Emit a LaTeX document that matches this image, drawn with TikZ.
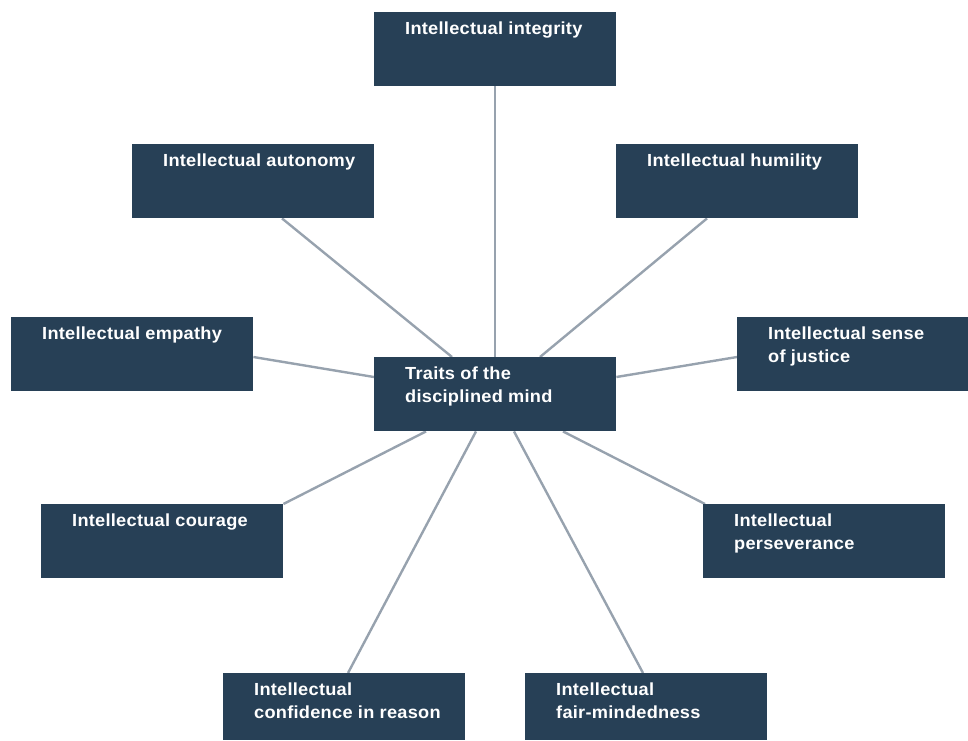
\documentclass[tikz,border=0pt]{standalone}
\usepackage{fontspec}
\setmainfont{Liberation Sans}[FakeStretch=1.04,LetterSpace=1.5]
\usetikzlibrary{calc,backgrounds}
\definecolor{boxfill}{HTML}{274056}
\definecolor{linkgray}{HTML}{97A2AE}
\newcommand{\twolines}[2]{\vtop{\baselineskip=22.5pt\lineskiplimit=-10pt\hbox{#1}\hbox{#2}}}
\tikzset{
  tbox/.style={draw=none, fill=boxfill, anchor=north west, inner sep=0pt,
    minimum width=242pt, minimum height=74pt},
  tlabel/.style={anchor=base west, inner sep=0pt, text=white,
    font=\fontsize{17.5}{22.5}\selectfont\bfseries},
  link/.style={draw=linkgray, line width=2.4pt}
}
\begin{document}
\begin{tikzpicture}[x=1pt,y=-1pt]
\useasboundingbox (0,0) rectangle (968,740);
% boxes
\node[tbox] (integ) at (374,12) {};
\node[tbox] (aut) at (132,144) {};
\node[tbox] (hum) at (616,144) {};
\node[tbox] (emp) at (11,317) {};
\node[tbox] (ctr) at (374,357) {};
\node[tbox, minimum width=231pt] (jus) at (737,317) {};
\node[tbox] (cou) at (41,504) {};
\node[tbox] (per) at (703,504) {};
\node[tbox, minimum height=67pt] (con) at (223,673) {};
\node[tbox, minimum height=67pt] (fai) at (525,673) {};
% texts
\node[tlabel] (integT) at ($(integ.north west)+(31,22.5)$) {Intellectual integrity};
\node[tlabel] (autT) at ($(aut.north west)+(31,22.5)$) {Intellectual autonomy};
\node[tlabel] (humT) at ($(hum.north west)+(31,22.5)$) {Intellectual humility};
\node[tlabel] (empT) at ($(emp.north west)+(31,22.5)$) {Intellectual empathy};
\node[tlabel] (ctrT) at ($(ctr.north west)+(31,22.5)$) {\twolines{Traits of the}{disciplined mind}};
\node[tlabel] (jusT) at ($(jus.north west)+(31,22.5)$) {\twolines{Intellectual sense}{of justice}};
\node[tlabel] (couT) at ($(cou.north west)+(31,22.5)$) {Intellectual courage};
\node[tlabel] (perT) at ($(per.north west)+(31,22.5)$) {\twolines{Intellectual}{perseverance}};
\node[tlabel] (conT) at ($(con.north west)+(31,22.5)$) {\twolines{Intellectual}{confidence in reason}};
\node[tlabel] (faiT) at ($(fai.north west)+(31,22.5)$) {\twolines{Intellectual}{fair-mindedness}};
% connectors
\begin{scope}[on background layer]
\draw[link] (integ.south) -- (ctr.north);
\draw[link] ($(aut.south west)+(150,0)$) -- ($(ctr.north west)+(78,0)$);
\draw[link] ($(hum.south west)+(91,0)$) -- ($(ctr.north west)+(166,0)$);
\draw[link] ($(emp.north east)+(0,40)$) -- ($(ctr.north west)+(0,20)$);
\draw[link] ($(jus.north west)+(0,40)$) -- ($(ctr.north east)+(0,20)$);
\draw[link] (cou.north east) -- ($(ctr.south west)+(52,0)$);
\draw[link] ($(per.north west)+(2,0)$) -- ($(ctr.south west)+(189,0)$);
\draw[link] ($(con.north west)+(125,0)$) -- ($(ctr.south west)+(102,0)$);
\draw[link] ($(fai.north west)+(118,0)$) -- ($(ctr.south west)+(140,0)$);
\end{scope}
\end{tikzpicture}
\end{document}
